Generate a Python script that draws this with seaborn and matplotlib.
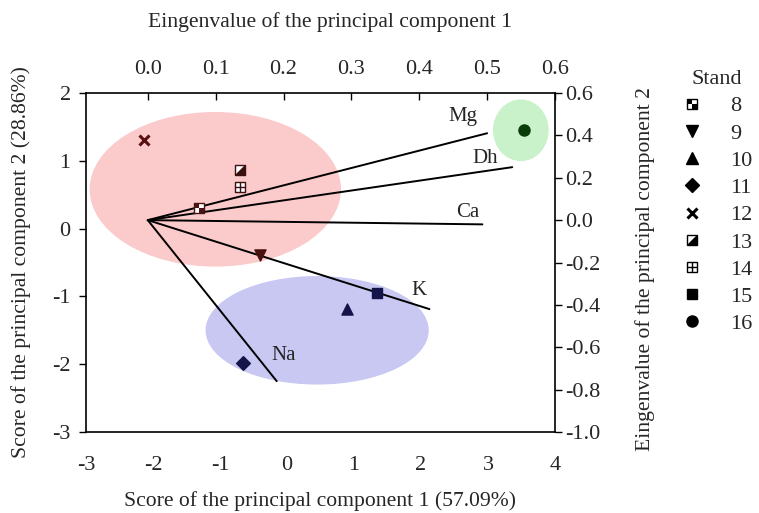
import numpy as np
import matplotlib
matplotlib.use("Agg")
import matplotlib.pyplot as plt
import seaborn as sns
from matplotlib.path import Path
from matplotlib.patches import Ellipse
from matplotlib.lines import Line2D
from matplotlib.legend_handler import HandlerTuple

sns.set_style("white")
plt.rcParams['font.family'] = ['Liberation Serif', 'DejaVu Serif']
plt.rcParams['axes.unicode_minus'] = False

# Scores of the stands (principal component 1 / 2)
stands = ['8', '9', '10', '11', '12', '13', '14', '15', '16']
score_pc1 = [-1.31, -0.40, 0.90, -0.66, -2.13, -0.70, -0.70, 1.34, 3.54]
score_pc2 = [0.30, -0.39, -1.19, -1.98, 1.31, 0.86, 0.61, -0.95, 1.45]
stand_colors = ['#4a1414', '#4a1010', '#14144a', '#14144a', '#5a1010',
                '#3a1010', '#3a1010', '#14144a', '#0b3d0b']

# Loadings (eigenvalues) of the variables
variables = ['Mg', 'Dh', 'Ca', 'K', 'Na']
eig_pc1 = [0.50, 0.537, 0.493, 0.415, 0.19]
eig_pc2 = [0.41, 0.25, -0.02, -0.42, -0.76]

# Group ellipses in score coordinates: centre x, centre y, width, height
groups = ['red', 'blue', 'green']
ell_cx = [-1.07, 0.45, 3.49]
ell_cy = [0.58, -1.50, 1.45]
ell_w = [3.73, 3.31, 0.81]
ell_h = [2.26, 1.58, 0.89]
ell_colors = ['#fbcaca', '#c8c8f3', '#caf2ca']

score_x_ticks = [-3, -2, -1, 0, 1, 2, 3, 4]
score_y_ticks = [-3, -2, -1, 0, 1, 2]
eig_x_ticks = [0.0, 0.1, 0.2, 0.3, 0.4, 0.5, 0.6]
eig_y_ticks = [-1.0, -0.8, -0.6, -0.4, -0.2, 0.0, 0.2, 0.4, 0.6]

FS = 16     # tick labels / legend
LFS = 15.6  # axis titles

# custom markers
sq_codes = [Path.MOVETO] + [Path.LINETO] * 3 + [Path.CLOSEPOLY]
checker = Path([(-1, 0), (0, 0), (0, 1), (-1, 1), (-1, 0),
                (0, -1), (1, -1), (1, 0), (0, 0), (0, -1)], sq_codes * 2)
half = Path([(1, 1), (1, -1), (-1, -1), (1, 1)],
            [Path.MOVETO, Path.LINETO, Path.LINETO, Path.CLOSEPOLY])
plus = Path([(0, -1), (0, 1), (-1, 0), (1, 0)],
            [Path.MOVETO, Path.LINETO, Path.MOVETO, Path.LINETO])

# (base marker, overlay marker, base filled?)
marker_spec = {
    '8': ('s', checker, False), '9': ('v', None, True), '10': ('^', None, True),
    '11': ('D', None, True), '12': ('x', None, True), '13': ('s', half, False),
    '14': ('s', plus, False), '15': ('s', None, True), '16': ('o', None, True),
}
msize = {'s': 7, 'v': 8, '^': 8, 'D': 7, 'x': 7, 'o': 8}

fig = plt.figure(figsize=(7.59, 5.13), dpi=100)
pos = [86 / 759, 1 - 432 / 513, (555 - 86) / 759, (432 - 93) / 513]

ax = fig.add_axes(pos)
ax.set_zorder(0)
ax.set_xlim(-3, 4)
ax.set_ylim(-3, 2)
for cx, cy, w, h, c in zip(ell_cx, ell_cy, ell_w, ell_h, ell_colors):
    ax.add_patch(Ellipse((cx, cy), w, h, facecolor=c, edgecolor=c, lw=1))
ax.set_xticks(score_x_ticks)
ax.set_yticks(score_y_ticks)
ax.tick_params(axis='x', direction='in', length=5, width=1, labelsize=FS, pad=17, color='black')
ax.tick_params(axis='y', direction='out', length=5, width=1, labelsize=FS, pad=6, left=True, color='black')
for s in ax.spines.values():
    s.set_color('black')
    s.set_linewidth(1.2)
ax.set_xlabel('Score of the principal component 1 (57.09%)', fontsize=LFS)
ax.xaxis.set_label_coords(0.5, -0.175)
ax.set_ylabel('Score of the principal component 2 (28.86%)', fontsize=LFS)
ax.yaxis.set_label_coords(-0.117, 0.5)

# loading vectors on eigenvalue axes
ax_e = fig.add_axes(pos, frameon=False)
ax_e.set_zorder(1)
ax_e.patch.set_visible(False)
ax_e.set_xlim(-0.091, 0.6)
ax_e.set_ylim(-1.0, 0.6)
for v, ex, ey in zip(variables, eig_pc1, eig_pc2):
    sns.lineplot(x=[0, ex], y=[0, ey], ax=ax_e, color='black', lw=1.4, sort=False)
label_off = {'Mg': (-0.036, 0.08), 'Dh': (-0.04, 0.04), 'Ca': (-0.022, 0.055),
             'K': (-0.016, 0.09), 'Na': (0.01, 0.12)}
for v, ex, ey in zip(variables, eig_pc1, eig_pc2):
    dx, dy = label_off[v]
    ax_e.text(ex + dx, ey + dy, v, fontsize=15, ha='center', va='center')
ax_e.xaxis.tick_top()
ax_e.xaxis.set_label_position('top')
ax_e.yaxis.tick_right()
ax_e.yaxis.set_label_position('right')
ax_e.set_xticks(eig_x_ticks)
ax_e.set_xticklabels([f'{t:.1f}' for t in eig_x_ticks])
ax_e.set_yticks(eig_y_ticks)
ax_e.set_yticklabels([f'{t:.1f}' for t in eig_y_ticks])
ax_e.tick_params(axis='x', direction='in', length=5, width=1, labelsize=FS, pad=10, top=True, color='black')
ax_e.tick_params(axis='y', direction='out', length=5, width=1, labelsize=FS, pad=2, right=True, color='black')
ax_e.set_xlabel('Eingenvalue of the principal component 1', fontsize=LFS)
ax_e.xaxis.set_label_coords(0.52, 1.195)
ax_e.set_ylabel('Eingenvalue of the principal component 2', fontsize=LFS)
ax_e.yaxis.set_label_coords(1.17, 0.48)

# stand scores on top
ax_p = fig.add_axes(pos, sharex=ax, sharey=ax)
ax_p.set_zorder(2)
ax_p.patch.set_visible(False)
ax_p.axis('off')
handles = []
for st, x, y, c in zip(stands, score_pc1, score_pc2, stand_colors):
    base, over, filled = marker_spec[st]
    ms = msize[base]
    if base == 'x':
        ax_p.plot([x], [y], marker='x', ms=ms, mew=2.2, color=c, ls='none')
    else:
        sns.scatterplot(x=[x], y=[y], ax=ax_p, marker=base, s=ms ** 2,
                        color=c if filled else 'white', edgecolor=c, linewidth=1.0)
    if over is not None:
        if over is plus:
            ax_p.plot([x], [y], marker=over, ms=ms, mew=1.0, color=c, ls='none')
        else:
            ax_p.plot([x], [y], marker=over, ms=ms, color=c, mew=0, ls='none')
    # legend handle
    if base == 'x':
        h = Line2D([], [], marker='x', ms=ms, mew=2.2, color='black', ls='none')
    else:
        h = Line2D([], [], marker=base, ms=ms, mfc='black' if filled else 'white',
                   mec='black', mew=1.0, ls='none')
    if over is not None:
        h2 = Line2D([], [], marker=over, ms=ms, color='black',
                    mew=1.0 if over is plus else 0, ls='none')
        h = (h, h2)
    handles.append(h)

fig.legend(handles, stands, title='Stand', loc='upper left',
           bbox_to_anchor=(0.871, 0.902), frameon=False, fontsize=FS,
           title_fontsize=FS, handler_map={tuple: HandlerTuple(ndivide=1, pad=0)},
           handlelength=1.0, handletextpad=1.2, labelspacing=0.3, alignment='center')

fig.savefig('out.png', dpi=100)
